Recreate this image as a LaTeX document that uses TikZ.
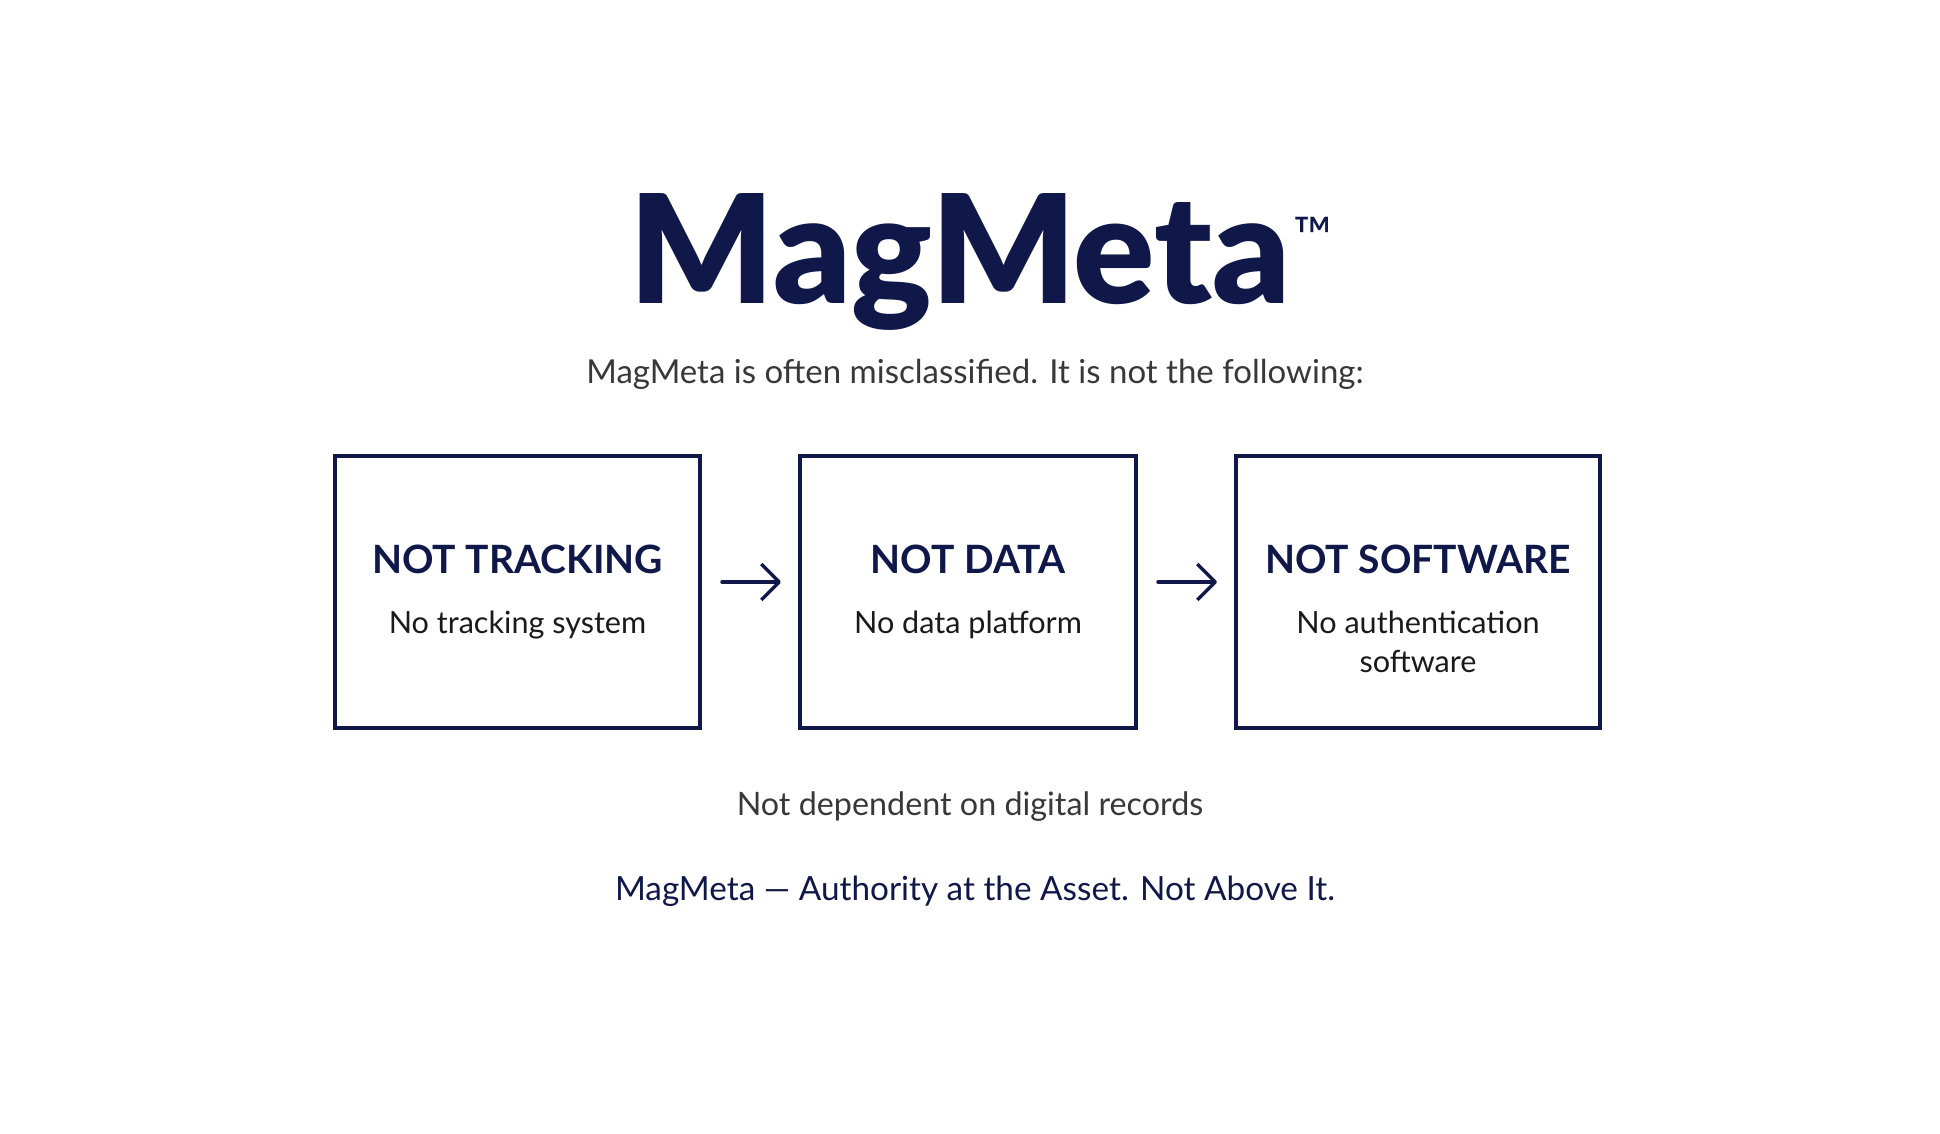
\documentclass[tikz,border=0pt]{standalone}
\usepackage{fontspec}
\setmainfont{Lato}
\newfontfamily\titlefont{Lato Black}
\usetikzlibrary{positioning,arrows.meta}
\definecolor{navy}{HTML}{0F1849}
\definecolor{ink}{HTML}{1A1A1A}
\definecolor{greytext}{HTML}{383838}

\begin{document}
\begin{tikzpicture}[
        x=1pt, y=-1pt,
        box/.style={rectangle, draw=navy, line width=3.5pt, minimum height=272pt, inner sep=0pt, outer sep=0pt},
        head/.style={font=\fontsize{39}{44}\selectfont\bfseries, text=navy, inner sep=0pt, anchor=base},
        sub/.style={font=\fontsize{30.6}{39}\selectfont, text=ink, align=center, inner sep=0pt, anchor=north},
        line/.style={inner sep=0pt, anchor=base},
        arrow/.style={line width=3.5pt, draw=navy, line cap=round, -{Straight Barb[length=18pt, width=36pt, line join=round]}, shorten <=22pt, shorten >=19pt}
    ]
    \fill[white] (0,0) rectangle (1940,1134);
    \useasboundingbox (0,0) rectangle (1940,1134);

    \node[line, font=\titlefont\fontsize{151}{154}\selectfont, text=navy] (title) at (960,303) {MagMeta};
    \node[inner sep=0pt, anchor=north west, font=\fontsize{52}{52}\selectfont, text=navy] (tm) at ([xshift=3pt, yshift=-24pt]title.north east) {™};
    \node[line, font=\fontsize{33}{38}\selectfont, text=greytext] (intro) at (975,383) {MagMeta is often misclassified. It is not the following:};

    \node[box, minimum width=365pt] (track) at (517.5,592) {};
    \node[box, minimum width=336pt] (data) at (968,592) {};
    \node[box, minimum width=364pt] (soft) at (1418,592) {};

    \node[head] (trackhead) at (517.5,573) {NOT TRACKING};
    \node[sub] (tracksub) at (517.5,611) {No tracking system};
    \node[head] (datahead) at (968,573) {NOT DATA};
    \node[sub] (datasub) at (968,611) {No data platform};
    \node[head] (softhead) at (1418,573) {NOT SOFTWARE};
    \node[sub] (softsub) at (1418,611) {No authentication\\software};

    \draw[arrow] ([yshift=10pt]track.east) -- ([yshift=10pt]data.west);
    \draw[arrow] ([yshift=10pt]data.east) -- ([yshift=10pt]soft.west);

    \node[line, font=\fontsize{32.3}{36}\selectfont, text=greytext] (note) at (970,815) {Not dependent on digital records};
    \node[line, font=\fontsize{33.3}{38}\selectfont, text=navy] (tagline) at (975,900) {MagMeta — Authority at the Asset. Not Above It.};
\end{tikzpicture}
\end{document}
